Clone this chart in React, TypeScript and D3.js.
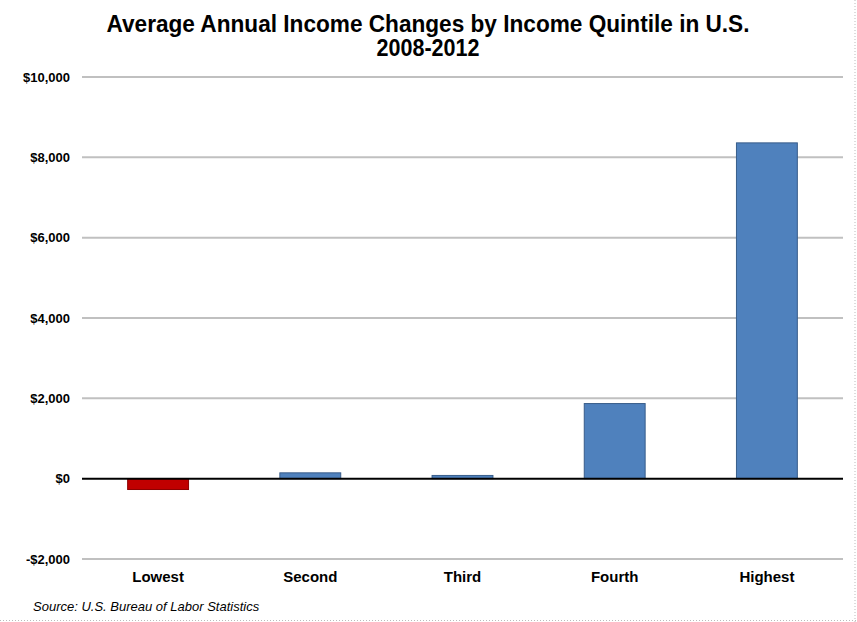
import React from "react";
import * as d3 from "d3";

const categories = ["Lowest", "Second", "Third", "Fourth", "Highest"];
const values = [-270, 145, 80, 1870, 8360];
const yTicks = [-2000, 0, 2000, 4000, 6000, 8000, 10000];
const titleLines = ["Average Annual Income Changes by Income Quintile in U.S.", "2008-2012"];
const source = "Source: U.S. Bureau of Labor Statistics";

const W = 857;
const H = 622;
const plot = { left: 82, right: 843, top: 77, bottom: 559 };

export default function App() {
  const x = d3.scaleBand<string>().domain(categories).range([plot.left, plot.right]).paddingInner(0.6).paddingOuter(0.3);
  const y = d3.scaleLinear().domain([-2000, 10000]).range([plot.bottom, plot.top]);
  const fmt = (v: number) => (v < 0 ? "-$" : "$") + d3.format(",")(Math.abs(v));
  const font = "Arial, 'Liberation Sans', sans-serif";
  return (
    <svg width={W} height={H} style={{ position: "absolute", left: 0, top: 0, background: "#fff" }} fontFamily={font}>
      <rect x={0} y={0} width={W} height={H} fill="#fff" />
      {titleLines.map((t, i) => (
        <text key={i} x={428} y={32 + i * 24} textAnchor="middle" fontSize={23} fontWeight="bold" fill="#000" textLength={i === 0 ? 643 : 103} lengthAdjust="spacingAndGlyphs">
          {t}
        </text>
      ))}
      {yTicks.map((t) => (
        <g key={t}>
          {t !== 0 && <line x1={plot.left} x2={plot.right} y1={y(t)} y2={y(t)} stroke="#C0C0C0" strokeWidth={2} />}
          <text x={70} y={y(t) + 4.5} textAnchor="end" fontSize={13} fontWeight="bold" fill="#000">
            {fmt(t)}
          </text>
        </g>
      ))}
      {categories.map((c, i) => {
        const v = values[i];
        const neg = v < 0;
        return (
          <rect
            key={c}
            x={x(c)!}
            width={x.bandwidth()}
            y={y(Math.max(0, v))}
            height={Math.abs(y(v) - y(0))}
            fill={neg ? "#C00000" : "#4F81BD"}
            stroke={neg ? "#8C0000" : "#385D8A"}
            strokeWidth={1}
          />
        );
      })}
      <line x1={plot.left} x2={plot.right} y1={y(0)} y2={y(0)} stroke="#000" strokeWidth={2} />
      {categories.map((c) => (
        <text key={c} x={x(c)! + x.bandwidth() / 2} y={582} textAnchor="middle" fontSize={15} fontWeight="bold" fill="#000">
          {c}
        </text>
      ))}
      <text x={33} y={611} fontSize={13} fontStyle="italic" fill="#000">
        {source}
      </text>
      <line x1={0} x2={W} y1={H - 1.5} y2={H - 1.5} stroke="#BBB" strokeDasharray="1,2" />
      <line x1={W - 2} x2={W - 2} y1={0} y2={H} stroke="#BBB" strokeDasharray="1,2" />
    </svg>
  );
}
